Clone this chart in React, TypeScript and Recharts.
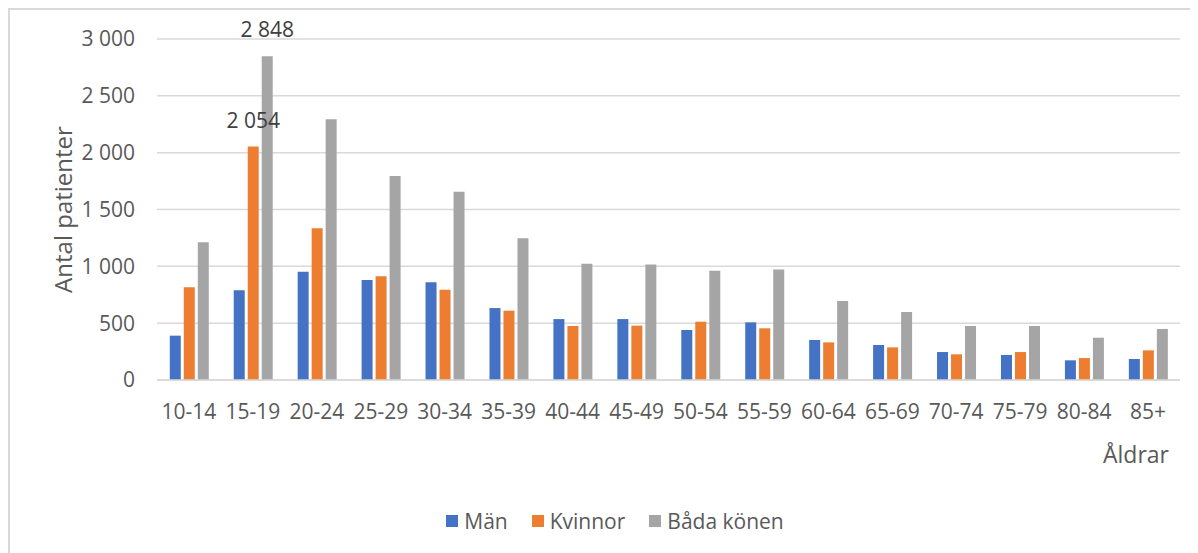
import { BarChart, Bar, XAxis, YAxis, CartesianGrid, Legend, LabelList } from "recharts"

const AGES = [
  "10-14", "15-19", "20-24", "25-29", "30-34", "35-39", "40-44", "45-49",
  "50-54", "55-59", "60-64", "65-69", "70-74", "75-79", "80-84", "85+",
]
const MEN = [390, 790, 953, 880, 859, 633, 536, 536, 440, 507, 352, 308, 246, 220, 173, 185]
const WOMEN = [815, 2054, 1334, 912, 794, 610, 475, 478, 513, 455, 331, 287, 226, 246, 193, 261]
const BOTH = [1211, 2848, 2293, 1794, 1656, 1246, 1023, 1017, 961, 973, 695, 598, 475, 475, 372, 449]
const Y_TICKS = [0, 500, 1000, 1500, 2000, 2500, 3000]
// only these age groups get a value label
const LABELED = ["15-19"]

const SERIES = [
  { key: "man", name: "Män", color: "#4472C4" },
  { key: "kvinnor", name: "Kvinnor", color: "#ED7D31" },
  { key: "bada", name: "Båda könen", color: "#A5A5A5" },
]

const FONT = "'Open Sans', sans-serif"
const TEXT = "#595959"
const GRID = "#d9d9d9"

const data = AGES.map((age, i) => ({ age, man: MEN[i], kvinnor: WOMEN[i], bada: BOTH[i] }))

// swedish style thousands separator: 2 848
const fmt = (v: number) => String(v).replace(/\B(?=(\d{3})+(?!\d))/g, "\u00a0")

function ValueLabel(props: any) {
  const { x, y, width, value, index } = props
  if (!LABELED.includes(AGES[index])) return null
  return (
    <text x={x + width / 2} y={y - 19} textAnchor="middle" fill="#404040" fontSize={21} fontFamily={FONT}>
      {fmt(value)}
    </text>
  )
}

function LegendContent() {
  return (
    <div style={{ display: "flex", justifyContent: "center", paddingLeft: 40, fontFamily: FONT, fontSize: 21, color: TEXT, lineHeight: "28px" }}>
      {SERIES.map((s, i) => (
        <div key={s.key} style={{ display: "flex", alignItems: "center", marginLeft: i ? 24 : 0 }}>
          <span style={{ width: 12, height: 12, background: s.color, marginRight: 6, display: "inline-block" }} />
          {s.name}
        </div>
      ))}
    </div>
  )
}

export default function App() {
  return (
    <div style={{ width: 1188, height: 543, borderLeft: `2px solid ${GRID}`, borderTop: `2px solid ${GRID}`, background: "#fff" }}>
      <BarChart
        width={1188}
        height={543}
        data={data}
        margin={{ top: 29, right: 18, left: 0, bottom: 0 }}
        barCategoryGap="20%"
        barGap={3}
      >
        <CartesianGrid vertical={false} stroke={GRID} strokeWidth={1.5} />
        <XAxis
          dataKey="age"
          height={145}
          axisLine={{ stroke: GRID, strokeWidth: 1.5 }}
          tickLine={false}
          tickSize={0}
          tickMargin={24}
          interval={0}
          tick={{ fontSize: 21, fill: TEXT, fontFamily: FONT }}
          label={({ viewBox }: any) => (
            <text x={viewBox.x + viewBox.width - 11} y={viewBox.y + 83} textAnchor="end" fill={TEXT} fontSize={23} fontFamily={FONT}>
              Åldrar
            </text>
          )}
        />
        <YAxis
          width={147}
          domain={[0, 3000]}
          ticks={Y_TICKS}
          axisLine={false}
          tickLine={false}
          tickSize={0}
          tickMargin={22}
          tickFormatter={fmt}
          tick={{ fontSize: 21, fill: TEXT, fontFamily: FONT }}
          label={({ viewBox }: any) => {
            const cx = viewBox.x + 52
            const cy = viewBox.y + viewBox.height / 2
            return (
              <text x={cx} y={cy} transform={`rotate(-90 ${cx} ${cy})`} textAnchor="middle" dominantBaseline="central" fill={TEXT} fontSize={24} fontFamily={FONT}>
                Antal patienter
              </text>
            )
          }}
        />
        <Legend verticalAlign="bottom" content={<LegendContent />} wrapperStyle={{ bottom: 18 }} />
        {SERIES.map((s) => (
          <Bar key={s.key} dataKey={s.key} name={s.name} fill={s.color} isAnimationActive={false}>
            {s.key !== "man" && <LabelList dataKey={s.key} content={<ValueLabel />} />}
          </Bar>
        ))}
      </BarChart>
    </div>
  )
}
